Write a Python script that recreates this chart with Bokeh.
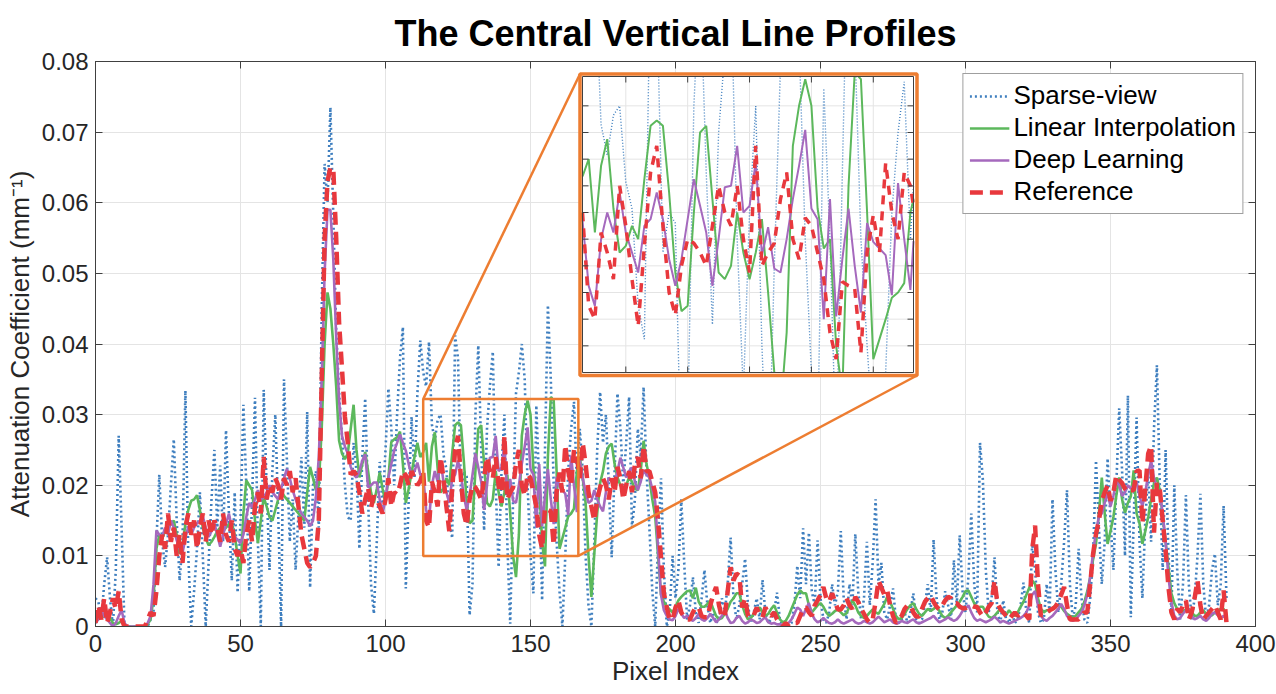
import numpy as np
from bokeh.plotting import figure
from bokeh.models import (Range1d, LinearAxis, FixedTicker, CustomJSTickFormatter,
                          Legend, LegendItem)
from bokeh.embed import file_html
from bokeh.resources import INLINE

# ---------------- data (attenuation in units of 1e-3 mm^-1, one value per pixel index) -------------
title_text = "The Central Vertical Line Profiles"
x_label = "Pixel Index"
y_label = "Attenuation Coefficient (mm\u207b\u00b9)"
series_names = ["Sparse-view", "Linear Interpolation", "Deep Learning", "Reference"]
pixel_ticks = [0, 50, 100, 150, 200, 250, 300, 350, 400]
atten_ticks = [0.0, 0.01, 0.02, 0.03, 0.04, 0.05, 0.06, 0.07, 0.08]
UNIT = 1e-3

sparse_view = [
    4, 3.5, 1, 6, 9.8, 4, 0, 8, 27, 14,
    0, 0, 0, 0, 0, 0, 0, 0, 0, 1,
    2, 12, 21.5, 12, 8.4, 13, 20, 26.5, 15, 6.5,
    12, 33.4, 10, 0, 5, 11, 19, 10, 0, 9,
    18, 25, 14, 22.8, 12, 27.8, 16, 6.5, 19, 4.8,
    15, 31.4, 20, 5, 18, 32.4, 12, 0, 33.5, 20,
    8, 22, 30, 16, 0, 35, 23.5, 12, 18, 8,
    16, 24, 14, 30.4, 5.5, 20, 22, 14, 45, 65.5,
    60, 73.5, 58, 42, 33, 27, 20, 15.5, 15, 26,
    22, 11, 24, 32.3, 18, 6, 1.8, 12, 23.3, 17,
    25, 33.7, 28, 20, 30, 38, 42.4, 5.4, 18, 29.7,
    21, 33, 40.5, 36, 34, 40.3, 28.6, 26.3, 29.3, 30,
    24.3, 22.3, 15, 12.5, 41.2, 38, 19, 22, 21.2, 1.6,
    6, 30, 39.8, 25, 13.6, 28, 34, 38.9, 20, 8.4,
    22, 30, 12, 0.4, 18, 33, 36, 40, 35, 20,
    10, 4.7, 31.3, 20, 3.7, 25, 45.5, 35, 20, 12,
    5, 0, 10, 22, 28, 31.8, 20, 28, 22, 10,
    3, 0, 12, 25, 33.2, 26, 30, 20, 9.8, 22,
    33, 28, 20, 26, 32.5, 14, 18, 28, 24, 33.9,
    22, 14, 5, 0, 12, 21, 8, 0, 2, 10,
    4, 8, 18, 9, 1, 3, 7, 2, 0.5, 4,
    8, 3, 0.5, 2, 0.5, 1, 4, 2, 6, 12.6,
    4, 1, 3, 6, 9.6, 3, 0.5, 2, 4, 1,
    6.6, 2, 0.5, 1, 2, 4.8, 1, 0, 0, 0,
    0.5, 3, 8.6, 4, 13.9, 6, 13.3, 5, 3, 12.2,
    4, 1, 0.5, 2, 6, 3, 5, 13.5, 4, 1,
    6, 3, 13.1, 5, 1, 4, 12, 3, 9, 18,
    6, 9, 2, 1, 3, 5.4, 1, 0.5, 1, 2,
    0.5, 2, 4.7, 1, 0.5, 1, 3, 6, 2, 12.3,
    4, 1, 2, 5, 3, 1, 9.4, 3, 12.9, 5,
    2, 7, 16, 6, 2, 26, 20.7, 8, 2, 4,
    9.8, 2, 0.5, 3.7, 1, 0.5, 2, 0.5, 1, 3,
    6.2, 2, 0.5, 11.8, 8, 2, 0.5, 1, 6, 2,
    18, 8, 2, 6, 12, 19.3, 6, 1, 3, 11,
    4, 1, 0.5, 4, 10, 23.5, 14, 6, 12, 23.8,
    15, 8, 20, 30.9, 22, 10, 32.7, 1.3, 15, 29.6,
    12, 4, 15, 22, 12, 28, 37, 20, 8, 25,
    10, 2, 20, 8, 1, 6, 18.6, 6, 1, 4,
    10, 18.8, 6, 1, 3, 8, 10.3, 3, 6, 17.1,
    4,
]

linear_interp = [
    0.5, 1.7, 1.2, 1.5, 1.8, 1.2, 0.5, 0.3, 0.5, 0.8,
    0.3, 0, 0, 0, 0, 0, 0, 0, 0.3, 1,
    4, 11, 13, 12.5, 13.5, 14, 14.5, 15, 13, 10.3,
    11.5, 14.5, 16.5, 17.8, 18, 18.6, 16.5, 14, 12.5, 11.5,
    12, 12.7, 13.5, 14, 13.5, 14, 14.5, 14.6, 13, 10,
    7.5, 16, 20.7, 20, 19.3, 15, 11.8, 15, 18.3, 17,
    15.5, 15, 16.5, 18, 19.3, 18.5, 18, 17.5, 17, 16.5,
    16, 15.5, 15, 19, 22.6, 21, 19.3, 20, 28, 40,
    47.3, 45, 40, 34, 26.3, 24.5, 23.7, 24.5, 28, 31.4,
    25, 21.1, 23, 24.7, 22, 19, 17.5, 19.5, 21.8, 19.5,
    17.5, 21, 26.1, 26.5, 26.8, 27.6, 23, 17.5, 19.5, 21.8,
    24, 26, 24, 24.7, 26, 20.5, 25.5, 27.5, 22.3, 19,
    19.5, 21, 20, 24.5, 28.5, 28.9, 28.5, 23.5, 17.5, 14.6,
    15, 22, 28, 28.5, 23, 17.5, 17, 18, 22, 19,
    17, 19, 21.5, 16, 10, 7, 13, 27, 30, 32,
    30, 22.3, 19.3, 20, 12, 8.5, 24, 32.5, 32, 22,
    11, 12.5, 14, 15.6, 16, 16.7, 22, 24, 21, 17.5,
    10, 4.2, 10.3, 16, 20.3, 22, 24.5, 25.5, 25.9, 23,
    21.1, 20, 19.3, 20, 21.1, 20.5, 19.5, 19.3, 22, 26.3,
    23, 21.1, 18, 15.6, 10, 4.5, 3.5, 2.8, 2.4, 2,
    2.8, 3.7, 4.2, 4.6, 5, 5.1, 4, 5.5, 3.5, 2.8,
    2.8, 3.2, 3.7, 2.5, 1.5, 1, 1.2, 1.8, 2.5, 3.5,
    4, 4.7, 4.7, 3, 1.8, 1, 1.2, 1.8, 2.3, 2.7,
    2, 1.5, 1.8, 2.5, 3, 2, 1, 0.6, 0.8, 1.5,
    2.5, 3.5, 4.5, 5.1, 4.7, 4.7, 3, 2, 2.5, 3,
    3.3, 2.8, 2, 1.5, 1.8, 2.2, 2.4, 2, 1.6, 1.9,
    2.8, 3.7, 3, 2, 1.5, 1.2, 1.5, 2, 2.4, 2,
    1.8, 2.5, 3.2, 4.2, 3.5, 2.5, 1.5, 1, 1.2, 1.8,
    2.5, 3, 3.3, 2.5, 1.8, 1.5, 2, 2.5, 2.2, 2.5,
    2.8, 2.2, 1.5, 1.2, 1.5, 2, 2.5, 3, 3.5, 4.2,
    5, 5.1, 4.2, 3.3, 2.5, 2.8, 2.8, 2, 1.4, 1.2,
    1.5, 2, 2.5, 2, 1.6, 2.3, 1.8, 1.5, 2, 2.8,
    3.5, 4.5, 5.5, 6.5, 6, 4, 2.5, 2, 2.3, 2.3,
    2.6, 3, 3, 2.8, 2.2, 1.8, 1.5, 1.3, 1.5, 2,
    2.5, 3.5, 5, 7, 9.5, 11.7, 16, 21.1, 16, 11.7,
    13.5, 15.5, 18.5, 21.1, 18, 16.1, 17.5, 18.4, 22.1, 16,
    14.6, 11.7, 13.5, 15.5, 18, 20.3, 21.1, 19.3, 15.6, 12,
    8.4, 4.7, 3.3, 2.5, 2, 2.2, 2.4, 2.5, 2, 1.5,
    1.5, 2, 2.3, 1.8, 1.5, 1.6, 2, 2.3, 2.5, 2.5,
    1.8,
]

deep_learning = [
    0.5, 1, 2.3, 1.5, 1, 0.5, 0, 0.5, 1.5, 2.3,
    0.5, 0, 0, 0, 0, 0, 0, 0, 0.5, 1.5,
    6, 13.6, 13, 12.7, 14, 13, 15, 14, 12.2, 11,
    10.4, 12.5, 14.2, 13, 14, 14.6, 15, 15.6, 14, 12.7,
    13.5, 14.6, 13, 11.3, 13, 14.5, 16, 14, 12.7, 12.3,
    11.8, 13, 15.5, 17.5, 16.9, 18, 19.3, 18, 18.3, 19,
    20, 19, 18.5, 18, 19.5, 21, 22.3, 21, 19.3, 18,
    16.9, 16, 15.5, 15, 14.2, 15, 18.3, 24, 35, 50,
    59, 59, 52, 41, 32, 27, 25.5, 24.5, 22.6, 21.5,
    21.1, 22, 23.5, 24.4, 19.7, 20, 20.4, 20.4, 18, 16,
    18, 21.1, 23, 24.9, 26, 27.2, 26, 24.9, 23, 21.4,
    22, 23.2, 21.5, 21.4, 16.5, 15, 20, 22, 20.5, 23.5,
    20.5, 19, 17.5, 21, 21.5, 23.5, 21.5, 18.5, 16.5, 18.5,
    21.5, 24.5, 22.5, 20.5, 16.5, 20, 23.9, 24, 27, 22,
    22.5, 25.8, 18.8, 20.9, 17.8, 17.5, 20, 23, 25.5, 28.2,
    22.3, 21.5, 14, 23, 14.2, 18.5, 22.3, 18, 14.5, 21.2,
    19.8, 19.3, 18.8, 15.8, 24.2, 20, 16.2, 23.5, 21, 19,
    17.5, 17.8, 19.3, 18, 17, 16.3, 19, 21.1, 20.5, 20.3,
    22, 23.9, 22.5, 21.1, 22, 22.5, 20.5, 19.3, 20.5, 22.1,
    21.5, 21.1, 19.5, 17.7, 11, 4.5, 2.3, 1.5, 1, 0.9,
    1.5, 2.5, 1.8, 1.2, 1.5, 1, 0.8, 1.2, 1.8, 1,
    0.8, 1.2, 1.8, 1.2, 0.6, 1, 1.5, 2.3, 1.2, 0.5,
    0.6, 1.2, 1.5, 0.8, 0.4, 0.6, 1, 0.8, 0.5, 0.6,
    1, 1.3, 0.6, 0.4, 0.5, 0.3, 0.3, 0.2, 0.3, 0.5,
    1, 1.8, 2.7, 2.4, 1.5, 2.5, 3.3, 1.8, 1, 0.6,
    0.8, 1.2, 0.8, 0.5, 0.4, 0.6, 1, 0.6, 0.4, 0.6,
    0.8, 1, 0.6, 0.4, 0.5, 0.8, 0.6, 0.4, 0.6, 1,
    1.4, 1, 0.6, 0.8, 1, 0.6, 0.4, 0.5, 0.8, 0.6,
    0.5, 0.8, 1, 0.6, 0.4, 0.6, 0.8, 1, 1.2, 1.5,
    1, 0.6, 0.8, 1, 1.3, 1, 0.8, 1, 1.5, 2.2,
    2.6, 3, 2, 1.2, 0.8, 1, 0.8, 0.6, 0.8, 1,
    1.4, 1, 0.6, 0.8, 0.6, 0.4, 0.6, 0.8, 1, 1.2,
    1.5, 2, 3, 4.5, 5, 3, 1.5, 1, 0.8, 1.2,
    1.5, 2, 2.5, 3.2, 2.5, 1.5, 1, 0.8, 1, 1.5,
    2, 3, 4.5, 7, 10.5, 13.5, 15.5, 16, 17.5, 19,
    17, 18.5, 20.5, 20, 18.5, 19, 20, 19.5, 20, 20.5,
    18.5, 17, 19, 21.5, 23.5, 21, 19.5, 19, 16, 12,
    7, 3.5, 1.5, 1, 1.2, 1.8, 2.3, 2.5, 1.5, 1,
    1.2, 1.5, 1, 0.8, 1.2, 1.8, 2, 1.6, 1.2, 1.5,
    1,
]

reference = [
    0.5, 3, 1, 4, 0.5, 2, 4, 2.5, 5, 1,
    0, 0, 0, 0, 0, 0, 0, 0, 1, 2,
    1.5, 5, 10, 13, 11, 16, 12, 14, 10, 13,
    9, 14, 16, 13, 15, 11, 14, 16, 12, 15,
    13, 15, 14, 12, 16, 13, 12, 15, 11, 10,
    11, 9, 13, 15, 12, 17, 19, 16, 24, 18,
    20, 19, 21, 20, 18, 21, 20, 22, 19, 21,
    17, 13, 11, 9, 8.4, 9, 10, 15, 35, 55,
    63, 65, 64.8, 55, 43, 36.5, 29.7, 26, 21.5, 22,
    21.4, 19, 16, 18, 19.7, 16.8, 18.5, 18, 17, 16,
    18, 21, 17, 19, 18.7, 20, 22, 21.4, 20, 22,
    21, 20, 20.6, 22, 15, 14, 20.5, 19, 17, 24,
    21, 17, 13.5, 19.5, 25, 27, 21, 16, 14.3, 18,
    20, 19.7, 19, 18, 21, 24, 22, 21, 24, 20,
    17.5, 27, 18, 19, 19.7, 23, 25, 20, 18.5, 21.6,
    21, 19, 17, 13, 11, 16.8, 16.5, 16.3, 11.5, 19,
    21.8, 19, 25.7, 22, 20, 25, 24, 21, 26, 23,
    19, 17, 15, 18, 19.7, 21, 20, 18, 21, 19,
    22.6, 21, 18, 20, 22, 19, 23, 24, 21, 25.6,
    22, 22, 20.5, 19, 15, 9.8, 4.7, 2.7, 1, 1,
    2.7, 3.7, 2, 1.3, 1, 1, 2, 2.7, 2.7, 1.5,
    1.3, 1.3, 3, 4.5, 5.6, 3, 1.3, 1.5, 5, 8.4,
    6.5, 7.5, 7.2, 2.7, 4, 1.5, 1.3, 1.6, 2.7, 1.6,
    1.3, 2.7, 1.8, 1.5, 2, 1, 0.5, 0, 0.5, 0,
    0, 0.5, 0.5, 1.5, 2.5, 2.7, 2, 1.5, 3, 3.7,
    4.5, 5.6, 4, 3.5, 4.7, 3.5, 2.4, 2.4, 3, 4,
    3, 2.5, 4.2, 3.5, 2.5, 1.8, 1, 0.5, 1, 3.5,
    6.5, 5.5, 4.5, 5.1, 3, 1.5, 0.5, 1, 1.5, 2.5,
    3, 3, 2, 1.4, 1.4, 2.5, 3.5, 4, 4.4, 3.5,
    2.8, 2.4, 3, 3.7, 4.2, 4, 3.3, 3.3, 2.8, 2.6,
    2.6, 2.8, 3, 2.8, 2.8, 2, 1.4, 2, 2.8, 3.3,
    6.5, 3.3, 2.5, 2, 1.5, 1, 1.5, 2, 1.5, 1.8,
    2, 1.5, 1, 10.8, 14.3, 6, 1.5, 1.8, 2, 2.3,
    2.5, 2.8, 3.5, 4.5, 5.6, 3, 1, 1, 1, 1,
    1.5, 2, 2, 6, 10.3, 13.1, 15, 17.8, 19, 20,
    17.8, 19, 21.4, 20.8, 20.3, 19.5, 19, 19.3, 19.3, 22,
    22.1, 14.6, 19.6, 24.5, 25.6, 13.3, 20.3, 19.5, 15, 10.8,
    5.5, 2, 1, 2.5, 2, 3, 3.7, 1, 2, 4,
    6.5, 3, 1, 1.5, 2, 2.5, 3, 2, 1, 5.1,
    0.5,
]

# zoomed window (pixel index / attenuation) shown in the inset
zoom_x = (113.0, 166.5)
zoom_y = (0.010, 0.0322)
inset_xgrid = [120, 130, 140, 150, 160]
inset_ygrid = [0.012, 0.014, 0.016, 0.018, 0.020, 0.022, 0.024, 0.026, 0.028, 0.030]

# ---------------- styling / geometry ----------------
FONT = "Liberation Sans"
C_BLUE, C_GREEN, C_PURPLE, C_RED = "#3f7fbf", "#5cb85c", "#a569bd", "#e8383d"
C_ORANGE = "#ed7d31"
C_AX = "#404040"
C_TXT = "#262626"
C_GRID = "#e4e4e4"

W, H = 1276, 694
X_MAX, Y_MAX = 400.0, 0.08
# frame geometry in page pixels
FL, FR, FT, FB = 95.0, 1255.0, 61.0, 626.0
def fx(px):
    return (px - FL) / (FR - FL)
def fy(py):
    return (FB - py) / (FB - FT)
def mx(px):
    return fx(px) * X_MAX
def my(py):
    return fy(py) * Y_MAX

IL, IR, IT, IB = 582.0, 913.0, 76.0, 372.0          # inset inner axes box
OL, OR_, OT, OB = 579.5, 916.5, 73.5, 375.0         # inset orange border (line centre)

p = figure(width=W, height=H, output_backend="svg", toolbar_location=None,
           x_range=Range1d(0, X_MAX), y_range=Range1d(0, Y_MAX),
           min_border_left=int(FL), min_border_right=int(W - FR),
           min_border_top=int(FT), min_border_bottom=int(H - FB),
           background_fill_color="white", border_fill_color="white")
p.outline_line_color = C_AX
p.outline_line_width = 1

p.title.text = title_text
p.title.text_font = FONT
p.title.text_font_size = "36px"
p.title.text_font_style = "bold"
p.title.text_color = "black"
p.title.align = "center"
p.title.standoff = 16

xa = p.xaxis[0]
ya = p.yaxis[0]
xa.ticker = FixedTicker(ticks=pixel_ticks)
ya.ticker = FixedTicker(ticks=atten_ticks)
ya.formatter = CustomJSTickFormatter(code="return Math.abs(tick) < 1e-9 ? '0' : tick.toFixed(2);")
for ax in (xa, ya):
    ax.axis_line_color = C_AX
    ax.major_tick_line_color = C_AX
    ax.major_tick_in = 7
    ax.major_tick_out = 0
    ax.minor_tick_line_color = None
    ax.major_label_text_font = FONT
    ax.major_label_text_font_size = "24px"
    ax.major_label_text_color = C_TXT
    ax.axis_label_text_font = FONT
    ax.axis_label_text_font_size = "26px"
    ax.axis_label_text_font_style = "normal"
    ax.axis_label_text_color = C_TXT
xa.axis_label = x_label
ya.axis_label = y_label
xa.major_label_standoff = 8
xa.axis_label_standoff = 1
ya.major_label_standoff = 7
ya.axis_label_standoff = 4

for side, tk in (("right", atten_ticks), ("above", pixel_ticks)):
    ax = LinearAxis(ticker=FixedTicker(ticks=tk), major_label_text_font_size="0px",
                    major_label_standoff=0, major_tick_in=7, major_tick_out=0,
                    minor_tick_line_color=None, axis_line_color=C_AX,
                    major_tick_line_color=C_AX)
    ax.formatter = CustomJSTickFormatter(code="return '';")
    p.add_layout(ax, side)

p.xgrid.ticker = FixedTicker(ticks=pixel_ticks)
p.ygrid.ticker = FixedTicker(ticks=atten_ticks)
p.grid.grid_line_color = C_GRID
p.grid.grid_line_width = 1

series = [np.array(s, dtype=float) * UNIT for s in (sparse_view, linear_interp, deep_learning, reference)]
main_styles = [
    dict(line_color=C_BLUE, line_width=2.6, line_dash="2 3"),
    dict(line_color=C_GREEN, line_width=2.6),
    dict(line_color=C_PURPLE, line_width=2.6),
    dict(line_color=C_RED, line_width=4.5, line_dash="13 7"),
]
renderers = []
for s, st in zip(series, main_styles):
    xs = np.arange(len(s), dtype=float)
    renderers.append(p.line(xs, s, **st))

# ---------------- inset (drawn through extra ranges mapped onto the inset box) ----------------
sx_span = (zoom_x[1] - zoom_x[0]) / (fx(IR) - fx(IL))
sx0 = zoom_x[0] - fx(IL) * sx_span
sy_span = (zoom_y[1] - zoom_y[0]) / (fy(IT) - fy(IB))
sy0 = zoom_y[0] - fy(IB) * sy_span
p.extra_x_ranges = {"ix": Range1d(sx0, sx0 + sx_span)}
p.extra_y_ranges = {"iy": Range1d(sy0, sy0 + sy_span)}
IN = dict(x_range_name="ix", y_range_name="iy")

# white background of inset
p.quad(left=mx(OL), right=mx(OR_), bottom=my(OB), top=my(OT),
       fill_color="white", line_color=None)

# inset grid
p.segment(x0=inset_xgrid, x1=inset_xgrid, y0=[zoom_y[0]] * len(inset_xgrid),
          y1=[zoom_y[1]] * len(inset_xgrid), line_color=C_GRID, line_width=1, **IN)
p.segment(x0=[zoom_x[0]] * len(inset_ygrid), x1=[zoom_x[1]] * len(inset_ygrid),
          y0=inset_ygrid, y1=inset_ygrid, line_color=C_GRID, line_width=1, **IN)


def clip_polyline(x, y, x0, x1, y0, y1):
    ox, oy = [], []
    last = None
    for i in range(len(x) - 1):
        ax_, ay_, bx_, by_ = x[i], y[i], x[i + 1], y[i + 1]
        dx, dy = bx_ - ax_, by_ - ay_
        t0, t1 = 0.0, 1.0
        ok = True
        for pp, qq in ((-dx, ax_ - x0), (dx, x1 - ax_), (-dy, ay_ - y0), (dy, y1 - ay_)):
            if pp == 0:
                if qq < 0:
                    ok = False
                    break
            else:
                r = qq / pp
                if pp < 0:
                    if r > t1:
                        ok = False
                        break
                    t0 = max(t0, r)
                else:
                    if r < t0:
                        ok = False
                        break
                    t1 = min(t1, r)
        if not ok:
            last = None
            continue
        c1 = (ax_ + t0 * dx, ay_ + t0 * dy)
        c2 = (ax_ + t1 * dx, ay_ + t1 * dy)
        if last is not None and abs(last[0] - c1[0]) < 1e-9 and abs(last[1] - c1[1]) < 1e-12:
            ox.append(c2[0]); oy.append(c2[1])
        else:
            if ox:
                ox.append(np.nan); oy.append(np.nan)
            ox += [c1[0], c2[0]]; oy += [c1[1], c2[1]]
        last = c2
    return ox, oy


inset_styles = [
    dict(line_color=C_BLUE, line_width=1.4, line_dash="1 2"),
    dict(line_color=C_GREEN, line_width=2),
    dict(line_color=C_PURPLE, line_width=2),
    dict(line_color=C_RED, line_width=3.5, line_dash="9 7"),
]
for s, st in zip(series, inset_styles):
    xs = np.arange(len(s), dtype=float)
    cx, cy = clip_polyline(xs, s, zoom_x[0], zoom_x[1], zoom_y[0], zoom_y[1])
    p.line(cx, cy, **st, **IN)

# inset ticks (inward)
tlx = 6.0 * sx_span / (FR - FL)     # 6 px in inset x units
tly = 6.0 * sy_span / (FB - FT)     # 6 px in inset y units
n = len(inset_xgrid)
p.segment(x0=inset_xgrid, x1=inset_xgrid, y0=[zoom_y[0]] * n, y1=[zoom_y[0] + tly] * n,
          line_color=C_AX, line_width=1, **IN)
p.segment(x0=inset_xgrid, x1=inset_xgrid, y0=[zoom_y[1]] * n, y1=[zoom_y[1] - tly] * n,
          line_color=C_AX, line_width=1, **IN)
m = len(inset_ygrid)
p.segment(x0=[zoom_x[0]] * m, x1=[zoom_x[0] + tlx] * m, y0=inset_ygrid, y1=inset_ygrid,
          line_color=C_AX, line_width=1, **IN)
p.segment(x0=[zoom_x[1]] * m, x1=[zoom_x[1] - tlx] * m, y0=inset_ygrid, y1=inset_ygrid,
          line_color=C_AX, line_width=1, **IN)
p.quad(left=zoom_x[0], right=zoom_x[1], bottom=zoom_y[0], top=zoom_y[1],
       fill_color=None, line_color=C_AX, line_width=1, **IN)

# orange inset border, zoom box and connectors (main coordinates)
p.quad(left=mx(OL), right=mx(OR_), bottom=my(OB), top=my(OT),
       fill_color=None, line_color=C_ORANGE, line_width=3.5)
p.quad(left=zoom_x[0], right=zoom_x[1], bottom=zoom_y[0], top=zoom_y[1],
       fill_color=None, line_color=C_ORANGE, line_width=2.5)
p.segment(x0=[zoom_x[0], zoom_x[1]], y0=[zoom_y[1], zoom_y[0]],
          x1=[mx(OL), mx(OR_)], y1=[my(OT), my(OB)],
          line_color=C_ORANGE, line_width=2.5)

# ---------------- legend ----------------
legend = Legend(items=[LegendItem(label=nm, renderers=[r]) for nm, r in zip(series_names, renderers)],
                location="top_right")
legend.label_text_font = FONT
legend.label_text_font_size = "26px"
legend.label_text_color = "black"
legend.glyph_width = 40
legend.glyph_height = 30
legend.label_height = 30
legend.label_standoff = 4
legend.spacing = 1
legend.padding = 6
legend.margin = 12
legend.border_line_color = C_AX
legend.border_line_width = 1
legend.background_fill_color = "white"
legend.background_fill_alpha = 1.0
p.add_layout(legend)

open("out.html", "w").write(file_html(p, INLINE))
